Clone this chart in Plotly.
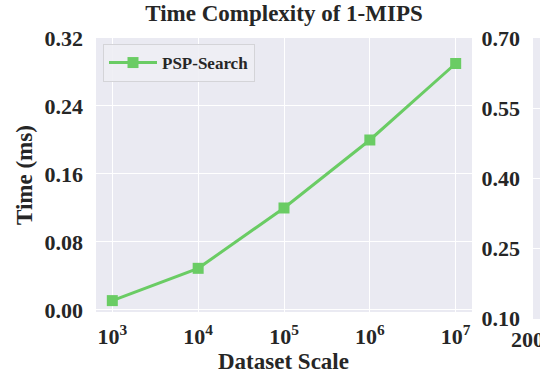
import plotly.graph_objects as go

# Data
dataset_scale = [1e3, 1e4, 1e5, 1e6, 1e7]
psp_search_time = [0.011, 0.049, 0.120, 0.200, 0.290]
x_tick_vals = [1e3, 1e4, 1e5, 1e6, 1e7]
x_tick_text = ["10<sup>3</sup>", "10<sup>4</sup>", "10<sup>5</sup>", "10<sup>6</sup>", "10<sup>7</sup>"]
y_tick_vals = [0.00, 0.08, 0.16, 0.24, 0.32]
y_tick_text = ["0.00", "0.08", "0.16", "0.24", "0.32"]
y2_tick_vals = [0.10, 0.25, 0.40, 0.55, 0.70]
y2_tick_text = ["0.10", "0.25", "0.40", "0.55", "0.70"]
x2_tick_vals = [2000]
x2_tick_text = ["2000"]

FONT = "Liberation Serif"
TXT = "#262626"
BG = "#EAEAF2"
GREEN = "#6ACC64"

W, H = 540, 372

def px_x(a, b):
    return [a / W, b / W]

def px_y(top, bottom):
    return [(H - bottom) / H, (H - top) / H]

fig = go.Figure()
fig.add_trace(go.Scatter(
    x=dataset_scale, y=psp_search_time, mode="lines+markers", name="<b>PSP-Search</b>",
    line=dict(color=GREEN, width=3),
    marker=dict(symbol="square", size=11, color=GREEN),
    xaxis="x", yaxis="y",
))
# partial neighbouring panel (cut off at the right edge)
fig.add_trace(go.Scatter(x=[2000], y=[None], mode="markers", showlegend=False,
                         xaxis="x2", yaxis="y2", hoverinfo="skip"))

tickfont = dict(family=FONT, size=22, color=TXT)
titlefont = dict(family=FONT, size=23, color=TXT)

fig.update_layout(
    width=W, height=H,
    margin=dict(l=0, r=0, t=0, b=0),
    paper_bgcolor="white",
    plot_bgcolor=BG,
    font=dict(family=FONT, color=TXT),
    title=dict(text="<b>Time Complexity of 1-MIPS</b>", x=284 / W, xanchor="center",
               y=1 - 13 / H, yanchor="middle", font=titlefont),
    xaxis=dict(
        type="log", domain=px_x(96, 472), range=[2.81, 7.19],
        tickvals=x_tick_vals, ticktext=["<b>%s</b>" % t for t in x_tick_text],
        tickfont=tickfont, showgrid=True, gridcolor="white", gridwidth=1.3,
        zeroline=False, showline=False, ticks="", ticklabelstandoff=9,
        automargin=False, anchor="y",
    ),
    yaxis=dict(
        domain=px_y(38, 312), range=[-0.0024, 0.32],
        tickvals=y_tick_vals, ticktext=["<b>%s</b>" % t for t in y_tick_text],
        tickfont=tickfont, showgrid=True, gridcolor="white", gridwidth=1.3,
        zeroline=False, showline=False, ticks="", ticklabelstandoff=12,
        automargin=False, anchor="x",
    ),
    xaxis2=dict(
        domain=px_x(533, 540), range=[2000, 2100],
        tickvals=x2_tick_vals, ticktext=["<b>%s</b>" % t for t in x2_tick_text],
        tickfont=tickfont, showgrid=False, zeroline=False, showline=False, ticks="",
        ticklabelstandoff=5, ticklabeloverflow="allow", automargin=False, anchor="y2",
    ),
    yaxis2=dict(
        domain=px_y(38, 319), range=[0.0995, 0.7005],
        tickvals=y2_tick_vals, ticktext=["<b>%s</b>" % t for t in y2_tick_text],
        tickfont=tickfont, showgrid=True, gridcolor="white", gridwidth=1.3,
        zeroline=False, showline=False, ticks="", ticklabelstandoff=12,
        automargin=False, anchor="x2",
    ),
    annotations=[
        dict(text="<b>Dataset Scale</b>", xref="paper", yref="paper",
             x=283 / W, y=1 - 361 / H, xanchor="center", yanchor="middle",
             showarrow=False, font=titlefont),
        dict(text="<b>Time (ms)</b>", xref="paper", yref="paper",
             x=24 / W, y=1 - 175 / H, xanchor="center", yanchor="middle",
             textangle=-90, showarrow=False, font=titlefont),
    ],
    showlegend=True,
    legend=dict(
        x=103 / W, y=1 - 44 / H, xanchor="left", yanchor="top",
        bgcolor="rgba(238,238,244,0.9)", bordercolor="#D4D4D8", borderwidth=1,
        font=dict(family=FONT, size=17, color=TXT),
        itemwidth=48, entrywidth=100,
    ),
)

fig.write_html(
    "out.html",
    config={"displayModeBar": False},
    post_script="document.body.style.margin='0';document.body.style.overflow='hidden';",
)
